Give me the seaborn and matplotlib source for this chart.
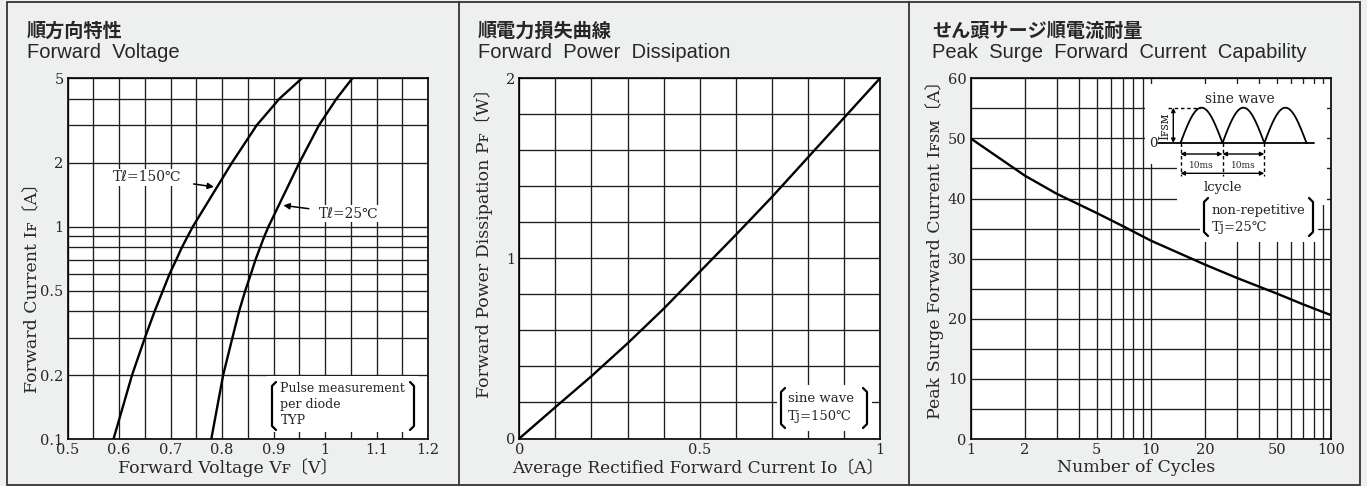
import numpy as np
import matplotlib.pyplot as plt
import matplotlib.ticker as mticker
from matplotlib.patches import Rectangle
import seaborn as sns

# Forward voltage characteristics (IF in A, VF in V)
if_a = [0.1, 0.2, 0.3, 0.4, 0.5, 0.6, 0.7, 0.8, 0.9, 1, 2, 3, 4, 5]
vf_150 = [0.589, 0.625, 0.650, 0.669, 0.685, 0.698, 0.711, 0.722, 0.733, 0.743, 0.819, 0.867, 0.911, 0.955]
vf_25 = [0.779, 0.802, 0.820, 0.833, 0.845, 0.856, 0.865, 0.874, 0.882, 0.890, 0.950, 0.988, 1.022, 1.053]

# Forward power dissipation (Io in A, PF in W)
io_a = [0, 0.1, 0.2, 0.3, 0.4, 0.5, 0.6, 0.7, 0.8, 0.9, 1.0]
pf_w = [0, 0.174, 0.346, 0.528, 0.72, 0.925, 1.13, 1.34, 1.56, 1.78, 2.0]

# Peak surge forward current vs number of cycles
cycles = [1, 2, 3, 5, 7, 10, 20, 30, 50, 70, 100]
ifsm_a = [50, 43.8, 40.8, 37.6, 35.4, 33.0, 29.0, 26.8, 24.2, 22.4, 20.6]

# tick labels
vf_ticks = [0.5, 0.6, 0.7, 0.8, 0.9, 1.0, 1.1, 1.2]
vf_labels = ['0.5', '0.6', '0.7', '0.8', '0.9', '1', '1.1', '1.2']
if_ticks = [0.1, 0.2, 0.5, 1, 2, 5]
if_labels = ['0.1', '0.2', '0.5', '1', '2', '5']
cyc_ticks = [1, 2, 5, 10, 20, 50, 100]
cyc_labels = ['1', '2', '5', '10', '20', '50', '100']

sns.set_style('white')
serif = ['DejaVu Serif', 'DejaVu Sans', 'Noto Sans', 'Noto Sans CJK JP']
sans = ['Liberation Sans', 'Noto Sans CJK JP']
plt.rcParams['font.family'] = serif

BG = '#eeefef'
GRID = '#1e1e1e'
fig = plt.figure(figsize=(13.67, 4.86), dpi=100, facecolor=BG)

W, H = 1367, 486
def px_axes(l, t, r, b):
    return fig.add_axes([l / W, 1 - b / H, (r - l) / W, (b - t) / H])

ax1 = px_axes(67.7, 78.3, 428.0, 439.0)
ax2 = px_axes(519.3, 78.3, 880.0, 438.5)
ax3 = px_axes(970.7, 78.3, 1331.0, 439.0)

# ---- panel 1
ax1.set_yscale('log')
sns.lineplot(x=vf_150, y=if_a, ax=ax1, sort=False, estimator=None, color='k', lw=1.7)
sns.lineplot(x=vf_25, y=if_a, ax=ax1, sort=False, estimator=None, color='k', lw=1.7)
ax1.set_xlim(0.5, 1.2)
ax1.set_ylim(0.1, 5)
ax1.set_xticks(vf_ticks, vf_labels)
ax1.xaxis.set_minor_locator(mticker.MultipleLocator(0.05))
ax1.yaxis.set_major_locator(mticker.FixedLocator(if_ticks))
ax1.yaxis.set_major_formatter(mticker.FixedFormatter(if_labels))
ax1.yaxis.set_minor_locator(mticker.FixedLocator([0.3, 0.4, 0.6, 0.7, 0.8, 0.9, 3, 4]))
ax1.yaxis.set_minor_formatter(mticker.NullFormatter())
ax1.set_xlabel('Forward Voltage Vꜰ〔V〕', fontsize=12.5, va='center')
ax1.set_ylabel('Forward Current Iꜰ〔A〕', fontsize=12.5, va='center')
ax1.xaxis.set_label_coords(0.444, -0.078)
ax1.yaxis.set_label_coords(-0.097, 0.43)

ax1.annotate('Tℓ=150℃', xy=(0.784, 1.54), xytext=(0.654, 1.71), fontsize=10,
             ha='center', va='center',
             bbox=dict(fc='white', ec='none', pad=1),
             arrowprops=dict(arrowstyle='-|>', color='k', lw=1.1, mutation_scale=9,
                             shrinkA=8, shrinkB=0))
ax1.annotate('Tℓ=25℃', xy=(0.919, 1.26), xytext=(1.045, 1.15), fontsize=10,
             ha='center', va='center',
             bbox=dict(fc='white', ec='none', pad=1),
             arrowprops=dict(arrowstyle='-|>', color='k', lw=1.1, mutation_scale=9,
                             shrinkA=6, shrinkB=0))

# ---- panel 2
sns.lineplot(x=io_a, y=pf_w, ax=ax2, sort=False, estimator=None, color='k', lw=1.7)
ax2.set_xlim(0, 1)
ax2.set_ylim(0, 2)
ax2.set_xticks([0, 0.5, 1], ['0', '0.5', '1'])
ax2.set_yticks([0, 1, 2], ['0', '1', '2'])
ax2.xaxis.set_minor_locator(mticker.MultipleLocator(0.1))
ax2.yaxis.set_minor_locator(mticker.MultipleLocator(0.2))
ax2.set_xlabel('Average Rectified Forward Current Iᴏ〔A〕', fontsize=12.2, va='center')
ax2.set_ylabel('Forward Power Dissipation Pꜰ〔W〕', fontsize=12.5, va='center')
ax2.xaxis.set_label_coords(0.494, -0.08)
ax2.yaxis.set_label_coords(-0.1, 0.554)

# ---- panel 3
ax3.set_xscale('log')
sns.lineplot(x=cycles, y=ifsm_a, ax=ax3, sort=False, estimator=None, color='k', lw=1.7)
ax3.set_xlim(1, 100)
ax3.set_ylim(0, 60)
ax3.xaxis.set_major_locator(mticker.FixedLocator(cyc_ticks))
ax3.xaxis.set_major_formatter(mticker.FixedFormatter(cyc_labels))
ax3.xaxis.set_minor_locator(mticker.FixedLocator([3, 4, 6, 7, 8, 9, 30, 40, 60, 70, 80, 90]))
ax3.xaxis.set_minor_formatter(mticker.NullFormatter())
ax3.set_yticks(range(0, 61, 10))
ax3.yaxis.set_minor_locator(mticker.MultipleLocator(5))
ax3.set_xlabel('Number of Cycles', fontsize=12.5, va='center')
ax3.set_ylabel('Peak Surge Forward Current Iꜰꜱᴍ〔A〕', fontsize=12.5, va='center')
ax3.xaxis.set_label_coords(0.459, -0.078)
ax3.yaxis.set_label_coords(-0.099, 0.536)

for ax in (ax1, ax2, ax3):
    ax.set_facecolor('white')
    ax.grid(True, which='both', color=GRID, lw=0.95)
    ax.set_axisbelow(True)
    ax.tick_params(which='both', length=0, labelsize=10.5, pad=3)
    for s in ax.spines.values():
        s.set_visible(True)
        s.set_color('k')
        s.set_linewidth(1.2)

# ---- overlay in pixel coordinates for titles, frames and notes
ov = fig.add_axes([0, 0, 1, 1])
ov.set_xlim(0, W)
ov.set_ylim(H, 0)
ov.axis('off')
ov.patch.set_alpha(0)

ov.add_patch(Rectangle((7, 2.5), 1353, 482, fill=False, ec='#333333', lw=1.3))
for xs in (458.5, 909):
    ov.plot([xs, xs], [2.5, 484.5], color='#333333', lw=1.3)

titles = [(27, '順方向特性', 'Forward  Voltage'),
          (478, '順電力損失曲線', 'Forward  Power  Dissipation'),
          (932, 'せん頭サージ順電流耐量', 'Peak  Surge  Forward  Current  Capability')]
for x0, jp, en in titles:
    ov.text(x0, 37, jp, fontsize=13.8, fontweight='bold', family=['Noto Sans CJK JP'], va='baseline')
    ov.text(x0, 57.5, en, fontsize=14.5, family=sans, va='baseline')


def bracket(x, y0, y1, side, d=4):
    s = 1 if side == 'left' else -1
    ov.plot([x + s * d, x, x, x + s * d], [y0, y0 + d, y1 - d, y1], color='k', lw=1.6,
            solid_joinstyle='round')


def note_box(l, t, r, b, bl, br, bt, bb, lines, tx, ty, fs):
    ov.add_patch(Rectangle((l, t), r - l, b - t, fc='white', ec='none'))
    bracket(bl, bt, bb, 'left')
    bracket(br, bt, bb, 'right')
    for txt, yy in zip(lines, ty):
        ov.text(tx, yy, txt, fontsize=fs, va='center', ha='left')


note_box(267, 376, 418, 432, 272, 414, 382, 430,
         ['Pulse measurement', 'per diode', 'TYP'], 280.5, [388.5, 404.5, 420], 9)
note_box(777, 385, 872, 431, 781, 867, 388, 428,
         ['sine wave', 'Tj=150℃'], 788, [398.5, 416], 9.5)

# panel 3 inset: sine wave sketch
ov.add_patch(Rectangle((1145, 84), 182, 80, fc='white', ec='none'))
ov.add_patch(Rectangle((1177, 163), 150, 42, fc='white', ec='none'))
ov.add_patch(Rectangle((1200, 204), 118, 38, fc='white', ec='none'))
ov.text(1240, 98.5, 'sine wave', fontsize=10, ha='center', va='center')
base_y, peak_y = 143, 107.7
edges = [1180.5, 1222.5, 1264.3, 1306.5]
for a, b in zip(edges[:-1], edges[1:]):
    t = np.linspace(0, np.pi, 60)
    ov.plot(a + (b - a) * t / np.pi, base_y - (base_y - peak_y) * np.sin(t), color='k', lw=1.3)
ov.plot([1158, 1314], [base_y, base_y], color='k', lw=1.3)
ov.text(1153, base_y, '0', fontsize=9.5, ha='center', va='center')
ov.plot([1168, 1200], [peak_y, peak_y], color='k', lw=1, ls=(0, (2.5, 2)))
ov.annotate('', xy=(1173.3, peak_y), xytext=(1173.3, base_y),
            arrowprops=dict(arrowstyle='<|-|>', color='k', lw=1, mutation_scale=6,
                            shrinkA=0, shrinkB=0))
ov.text(1164.5, 126, 'Iꜰꜱᴍ', fontsize=9, rotation=90, ha='center', va='center')
for xe in edges[:3]:
    ov.plot([xe, xe], [base_y, 176], color='k', lw=1, ls=(0, (2.5, 2)))
for a, b in [(edges[0], edges[1]), (edges[1], edges[2])]:
    ov.annotate('', xy=(b, 154), xytext=(a, 154),
                arrowprops=dict(arrowstyle='<|-|>', color='k', lw=1, mutation_scale=6,
                                shrinkA=0, shrinkB=0))
    ov.text((a + b) / 2, 165.5, '10ms', fontsize=6.5, ha='center', va='center')
ov.annotate('', xy=(edges[2], 173.3), xytext=(edges[0], 173.3),
            arrowprops=dict(arrowstyle='<|-|>', color='k', lw=1, mutation_scale=6,
                            shrinkA=0, shrinkB=0))
ov.text(1223, 187, 'lcycle', fontsize=9.5, ha='center', va='center')
bracket(1204, 198, 236, 'left')
bracket(1313, 198, 236, 'right')
ov.text(1211.5, 210, 'non-repetitive', fontsize=9.5, va='center')
ov.text(1211.5, 227, 'Tj=25℃', fontsize=9.5, va='center')

fig.savefig('out.png', dpi=100, facecolor=fig.get_facecolor())
